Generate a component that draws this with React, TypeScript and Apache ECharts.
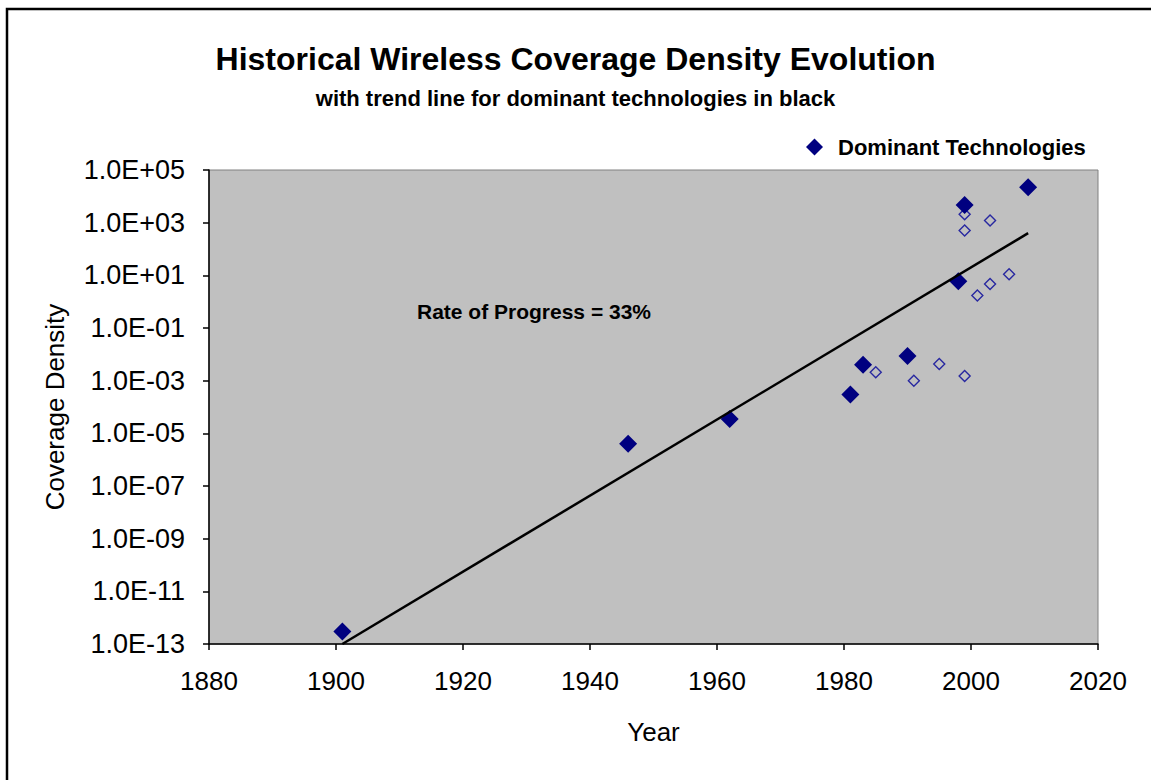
import React, { useEffect, useRef } from "react";
import * as echarts from "echarts";

const FONT = "'Liberation Sans', Arial, Helvetica, sans-serif";

const titleText = "Historical Wireless Coverage Density Evolution";
const subtitleText = "with trend line for dominant technologies in black";
const annotationText = "Rate of Progress = 33%";

// Dominant technologies (filled diamonds): [year, coverage density]
const dominantYears = [1901, 1946, 1962, 1981, 1983, 1990, 1998, 1999, 2009];
const dominantValues = [3e-13, 4e-6, 3.5e-5, 3e-4, 4e-3, 8.7e-3, 6, 4.7e3, 2.2e4];

// Other technologies (hollow diamonds)
const otherYears = [1985, 1991, 1995, 1999, 1999, 1999, 2001, 2003, 2003, 2006];
const otherValues = [2.1e-3, 1e-3, 4.3e-3, 1.5e-3, 500, 2.1e3, 1.7, 4.7, 1.2e3, 11];

// Trend line end points
const trendYears = [1901, 2009];
const trendValues = [1e-13, 400];

const xTicks = { min: 1880, max: 2020, interval: 20 };
const yTicks = { min: 1e-13, max: 1e5, interval: 2 };

function fmtExp(v: number): string {
  const e = Math.round(Math.log10(v));
  return "1.0E" + (e < 0 ? "-" : "+") + String(Math.abs(e)).padStart(2, "0");
}

export default function App() {
  const ref = useRef<HTMLDivElement>(null);

  useEffect(() => {
    if (!ref.current) return;
    const chart = echarts.init(ref.current, undefined, { renderer: "svg" });
    const dominant = dominantYears.map((y, i) => [y, dominantValues[i]]);
    const other = otherYears.map((y, i) => [y, otherValues[i]]);
    const trend = trendYears.map((y, i) => [y, trendValues[i]]);

    chart.setOption({
      animation: false,
      backgroundColor: "#ffffff",
      title: [
        {
          text: titleText,
          left: "center",
          top: 38,
          textStyle: { fontFamily: FONT, fontWeight: "bold", fontSize: 32, color: "#000" },
        },
        {
          text: subtitleText,
          left: "center",
          top: 82,
          textStyle: { fontFamily: FONT, fontWeight: "bold", fontSize: 22, color: "#000" },
        },
      ],
      legend: {
        data: ["Dominant Technologies"],
        left: 801,
        top: 131,
        itemWidth: 17,
        itemHeight: 17,
        icon: "diamond",
        itemStyle: { color: "#000080", opacity: 1 },
        textStyle: {
          fontFamily: FONT,
          fontWeight: "bold",
          fontSize: 22,
          color: "#000",
          padding: [0, 0, 0, 10],
        },
      },
      grid: {
        left: 209,
        top: 170,
        right: 53,
        bottom: 136,
        show: true,
        backgroundColor: "#c0c0c0",
        borderColor: "#808080",
        borderWidth: 1,
        containLabel: false,
      },
      xAxis: {
        type: "value",
        min: xTicks.min,
        max: xTicks.max,
        interval: xTicks.interval,
        name: "Year",
        nameLocation: "middle",
        nameGap: 75,
        nameTextStyle: { fontFamily: FONT, fontSize: 26, color: "#000" },
        axisLine: { show: true, onZero: false, lineStyle: { color: "#000", width: 1.5 } },
        axisTick: { show: true, inside: false, length: 6, lineStyle: { color: "#000", width: 1.5 } },
        axisLabel: {
          fontFamily: FONT,
          fontSize: 26,
          color: "#000",
          margin: 24,
          formatter: (v: number) => String(v),
        },
        splitLine: { show: false },
      },
      yAxis: {
        type: "log",
        logBase: 10,
        min: yTicks.min,
        max: yTicks.max,
        interval: yTicks.interval,
        name: "Coverage Density",
        nameLocation: "middle",
        nameRotate: 90,
        nameGap: 141,
        nameTextStyle: { fontFamily: FONT, fontSize: 26, color: "#000" },
        axisLine: { show: true, lineStyle: { color: "#000", width: 1.5 } },
        axisTick: { show: true, inside: false, length: 6, lineStyle: { color: "#000", width: 1.5 } },
        axisLabel: { fontFamily: FONT, fontSize: 27, color: "#000", margin: 24, formatter: fmtExp },
        splitLine: { show: false },
        minorTick: { show: false },
      },
      series: [
        {
          name: "Other Technologies",
          type: "scatter",
          data: other,
          symbol: "diamond",
          symbolSize: 11,
          itemStyle: {
            color: "rgba(0,0,0,0)",
            borderColor: "#2828a0",
            borderWidth: 1.4,
            opacity: 1,
          },
          z: 2,
        },
        {
          name: "Dominant Technologies",
          type: "scatter",
          data: dominant,
          symbol: "diamond",
          symbolSize: 18,
          itemStyle: { color: "#000080", opacity: 1 },
          z: 3,
        },
        {
          name: "Trend",
          type: "line",
          data: trend,
          symbol: "none",
          lineStyle: { color: "#000", width: 2.5 },
          z: 4,
        },
      ],
      graphic: [
        {
          type: "rect",
          shape: { x: 7, y: 9, width: 1300, height: 900 },
          style: { fill: "none", stroke: "#000", lineWidth: 2.5 },
          silent: true,
        },
        {
          type: "text",
          x: 417,
          y: 311,
          style: {
            text: annotationText,
            fontFamily: FONT,
            fontWeight: "bold",
            fontSize: 21,
            fill: "#000",
            textVerticalAlign: "middle",
            verticalAlign: "middle",
          },
          z: 10,
        },
      ],
    });
    return () => chart.dispose();
  }, []);

  return (
    <div
      ref={ref}
      style={{ position: "fixed", left: 0, top: 0, width: 1151, height: 780 }}
    />
  );
}
